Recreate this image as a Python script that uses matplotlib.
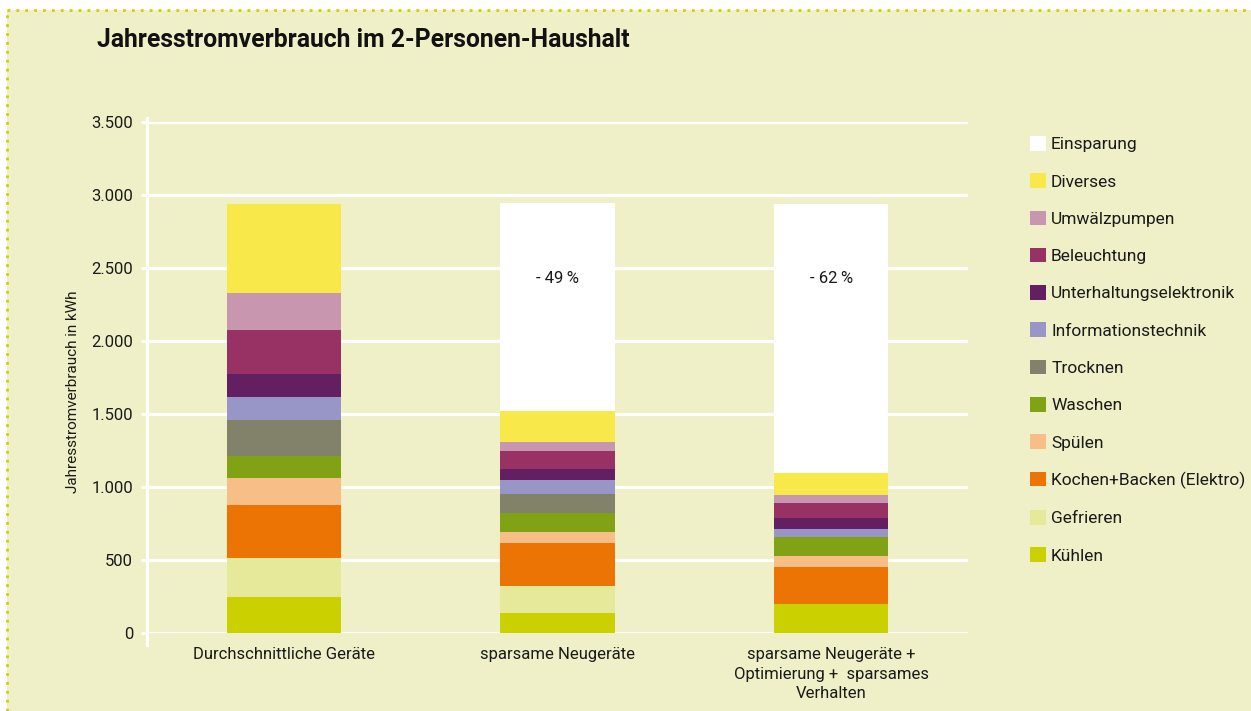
import matplotlib.pyplot as plt
from matplotlib.lines import Line2D
from matplotlib.patches import Patch
from matplotlib.ticker import FuncFormatter
import numpy as np

###############################################################################
############################## Data of the chart ##############################
###############################################################################

szenarien = ['Durchschnittliche Geräte',
             'sparsame Neugeräte',
             'sparsame Neugeräte +\nOptimierung +  sparsames\nVerhalten']

# from bottom to top of the stack, kWh per year
kategorien = ['Kühlen', 'Gefrieren', 'Kochen+Backen (Elektro)', 'Spülen',
              'Waschen', 'Trocknen', 'Informationstechnik',
              'Unterhaltungselektronik', 'Beleuchtung', 'Umwälzpumpen',
              'Diverses', 'Einsparung']

kuehlen = [250, 140, 200]
gefrieren = [265, 185, 0]
kochen = [360, 290, 250]
spuelen = [190, 80, 80]
waschen = [145, 125, 125]
trocknen = [250, 130, 0]
info = [155, 100, 60]
unterhaltung = [160, 75, 75]
beleuchtung = [300, 125, 100]
umwaelz = [255, 60, 55]
diverses = [610, 210, 150]
einsparung = [0, 1425, 1845]

prozent = ['', '- 49%', '- 62%']

farben = ['#CBD000', '#E6E89A', '#EC7404', '#F8BE88', '#80A214', '#82826A',
          '#9896C6', '#641E62', '#983264', '#C896AE', '#F8E84A', '#FFFFFF']

###############################################################################
################################ Figure setup #################################
###############################################################################

plt.rcParams['font.family'] = ['Roboto', 'DejaVu Sans']
bg = '#F0F0C8'

fig = plt.figure(figsize=(12.51, 7.11), dpi=100)
fig.patch.set_facecolor('white')

W, H = 1251, 711

# coloured panel with a dotted border on the left and top
panel = fig.add_axes([7 / W, 0, 1 - 7 / W, 1 - 10 / H])
panel.set_facecolor(bg)
panel.set_xlim(0, 1)
panel.set_ylim(0, 1)
panel.set_xticks([])
panel.set_yticks([])
for s in panel.spines.values():
    s.set_visible(False)
panel.add_line(Line2D([0, 0], [0, 1], color='#D0D000', lw=2,
                      ls=(0, (1, 2.2)), transform=panel.transAxes, clip_on=False))
panel.add_line(Line2D([0, 1], [1, 1], color='#D0D000', lw=2,
                      ls=(0, (1, 2.2)), transform=panel.transAxes, clip_on=False))

ax = fig.add_axes([147 / W, 1 - 633 / H, (968 - 147) / W, (633 - 122) / H])
ax.set_facecolor('none')

###############################################################################
############################### Stacked bars ##################################
###############################################################################

serien = [kuehlen, gefrieren, kochen, spuelen, waschen, trocknen, info,
          unterhaltung, beleuchtung, umwaelz, diverses, einsparung]

x = np.arange(len(szenarien))
bottom = np.zeros(len(szenarien))
for name, werte, farbe in zip(kategorien, serien, farben):
    ax.bar(x, werte, width=0.418, bottom=bottom, color=farbe, label=name,
           zorder=3, linewidth=0)
    bottom += np.array(werte)

# percentage labels in the white part
for i, txt in enumerate(prozent):
    if txt:
        ax.text(x[i], 2430, txt.replace('%', '\u2009%'), ha='center',
                va='center', fontsize=12, color='#1a1a1a', zorder=4)

###############################################################################
################################### Axes ######################################
###############################################################################

ax.set_xlim(-0.5, 2.5)
ax.set_ylim(0, 3500)
ax.set_yticks(np.arange(0, 3501, 500))
ax.yaxis.set_major_formatter(FuncFormatter(lambda v, p: f'{v:,.0f}'.replace(',', '.')))
ax.grid(axis='y', color='white', linewidth=2.2, zorder=0)
ax.set_axisbelow(True)

for s in ['top', 'right', 'bottom']:
    ax.spines[s].set_visible(False)
ax.spines['left'].set_color('white')
ax.spines['left'].set_linewidth(2.2)
ax.spines['left'].set_bounds(-80, 3530)

ax.tick_params(axis='y', colors='white', length=4, width=2, pad=6,
               labelcolor='#1a1a1a', labelsize=12)
ax.tick_params(axis='x', length=0, pad=10, labelcolor='#1a1a1a', labelsize=12)
ax.set_xticks(x)
ax.set_xticklabels(szenarien, linespacing=1.4, va='top')

fig.text(73 / W, 1 - 392 / H, 'Jahresstromverbrauch in kWh', rotation=90,
         ha='center', va='center', fontsize=11, color='#1a1a1a')

fig.text(97 / W, 1 - 40 / H, 'Jahresstromverbrauch im 2-Personen-Haushalt',
         ha='left', va='center', fontsize=17.8, fontweight='bold', color='#111111')

###############################################################################
################################## Legend #####################################
###############################################################################

handles = [Patch(facecolor=f, edgecolor='none', label=k)
           for k, f in zip(kategorien, farben)][::-1]
fig.legend(handles=handles, loc='upper left',
           bbox_to_anchor=(1023 / W, 1 - 129 / H), frameon=False,
           fontsize=12.5, handlelength=0.92, handleheight=0.92,
           handletextpad=0.3, labelspacing=1.21, borderaxespad=0,
           labelcolor='#1a1a1a')

plt.savefig('out.png', dpi=100, facecolor=fig.get_facecolor())
